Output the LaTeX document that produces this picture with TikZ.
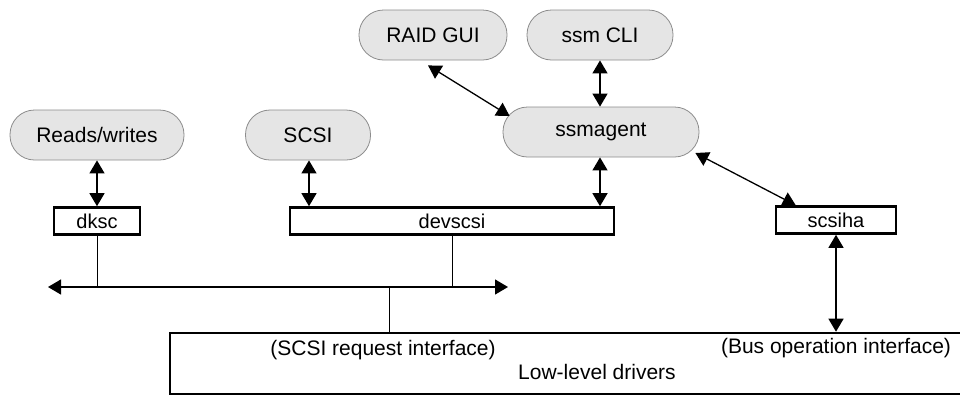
\documentclass[tikz,border=0pt]{standalone}
\usepackage{fontspec}
\setmainfont{Liberation Sans}
\usetikzlibrary{arrows.meta,calc}
\begin{document}
\begin{tikzpicture}[x=1pt,y=-1pt,
  pill/.style={draw=black!45, fill=black!10, line width=0.8pt, rounded corners=24.5pt,
    minimum height=50pt, inner sep=0pt, font=\fontsize{21}{24}\selectfont},
  modbox/.style={draw=black, fill=white, line width=2.6pt, minimum height=27pt,
    inner sep=0pt, font=\fontsize{20}{24}\selectfont},
  lbl/.style={inner sep=0pt, font=\fontsize{21}{24}\selectfont},
  biarr/.style={line width=1.3pt, {Triangle[length=13pt,width=15pt]}-{Triangle[length=13pt,width=15pt]}},
  conn/.style={line width=1pt}]
\useasboundingbox (0,0) rectangle (960,397);
\clip (0,0) rectangle (960,397);
% pills
\node[pill, minimum width=174pt] (rw) at (97,135) {Reads/writes};
\node[pill, minimum width=125pt] (scsi) at (308,135) {SCSI};
\node[pill, minimum width=148pt] (raid) at (433,35) {RAID GUI};
\node[pill, minimum width=146pt] (cli) at (600,35) {ssm CLI};
\node[pill, minimum width=196pt] (ssm) at (601,132) {ssmagent};
% module boxes
\node[modbox, minimum width=86pt] (dksc) at (97,221) {dksc};
\node[modbox, minimum width=324pt] (devscsi) at (452,221) {devscsi};
\node[modbox, minimum width=120pt] (scsiha) at (836,220) {scsiha};
% low-level drivers box
\node[draw=black, line width=2.6pt, minimum width=794pt, minimum height=61pt, inner sep=0pt] (low) at (567,363.5) {};
\node[lbl] (sri) at (383,350) {(SCSI request interface)};
\node[lbl] (boi) at (836,348) {(Bus operation interface)};
\node[lbl] (lld) at (597,372) {Low-level drivers};
% bus
\coordinate (busL) at (48,287);
\coordinate (busR) at (508,287);
\coordinate (busM) at (389,287);
\draw[biarr] (busL) -- (busR);
\draw[conn] (dksc.south) -- (dksc.south |- busL);
\draw[conn] (devscsi.south) -- (devscsi.south |- busL);
\draw[conn] (busM) -- (busM |- low.north);
% arrows
\draw[biarr] (rw.south) -- (dksc.north);
\draw[biarr] ($(scsi.south)+(1,0)$) -- ($(scsi.south |- devscsi.north)+(1,0)$);
\draw[biarr] ($(ssm.south)+(-1,0)$) -- ($(ssm.south |- devscsi.north)+(-1,0)$);
\draw[biarr] (cli.south) -- (cli.south |- ssm.north);
\draw[biarr] ($(raid.south)+(-5,5)$) -- ($(ssm.west)+(7,-16)$);
\draw[biarr] ($(ssm.east)+(-4,21)$) -- ($(scsiha.north west)+(21,0)$);
\draw[biarr] (scsiha.south) -- (scsiha.south |- low.north);
\end{tikzpicture}
\end{document}
